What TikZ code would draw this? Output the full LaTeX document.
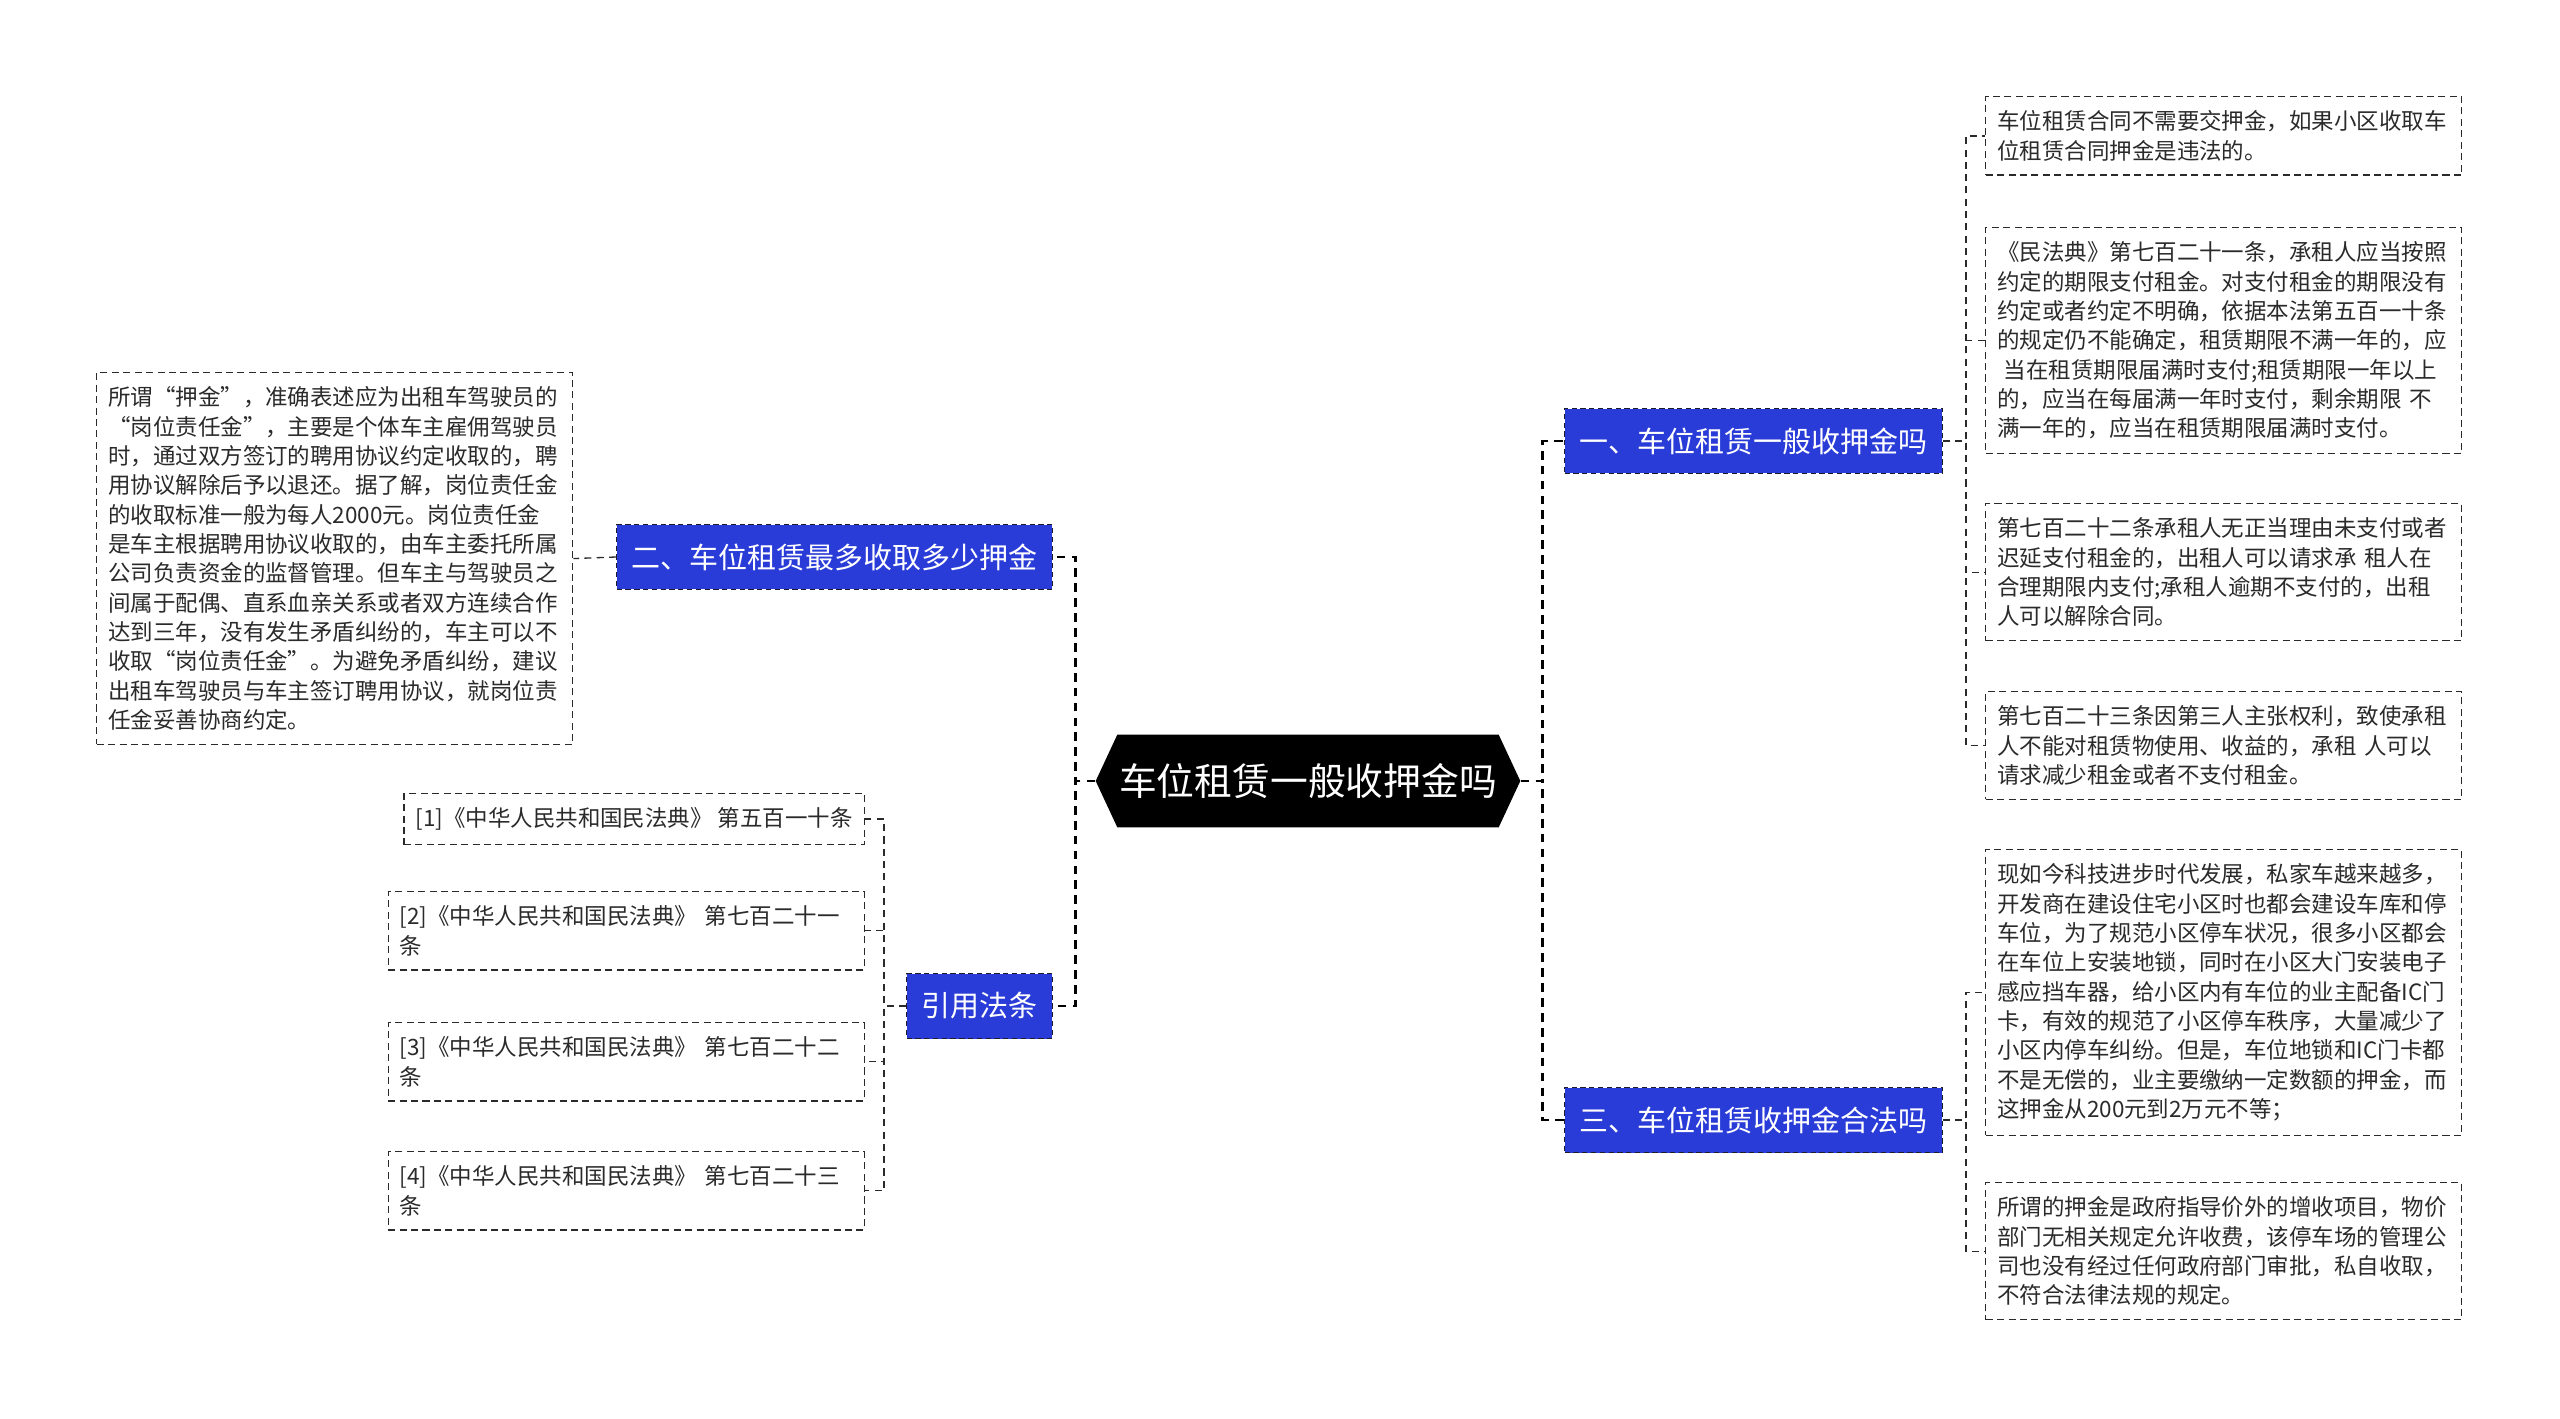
\documentclass[tikz,border=0pt]{standalone}
\usepackage{fontspec}
\setmainfont{Noto Sans CJK SC}
\usepackage{tikz}
\usetikzlibrary{shapes.symbols}
\definecolor{TreeBlue}{HTML}{2A3CD8}
\definecolor{TreeInk}{HTML}{2A2A2A}
\definecolor{TreeEdge}{HTML}{1C1C2C}

\begin{document}
\begin{tikzpicture}[x=0.02cm,y=-0.02cm,
	rootnode/.style={shape=signal,signal to=east and west,signal pointer angle=130,fill=black,text=white,font=\fontsize{21.5pt}{26pt}\selectfont,minimum height=1.86cm,inner xsep=1pt},
	topic/.style={fill=TreeBlue,draw=TreeEdge,line width=0.7pt,dash pattern=on 3pt off 2pt,text=white,font=\fontsize{16.5pt}{20pt}\selectfont,minimum height=1.3cm,inner xsep=8.5pt},
	leaf/.style={draw=TreeInk,line width=0.75pt,dash pattern=on 4pt off 2.5pt,text=TreeInk,font=\fontsize{12.8pt}{16.7pt}\selectfont,align=left,text width=258pt,inner xsep=6.5pt,inner ysep=8pt},
	mainlink/.style={draw=black,line width=1.5pt,dash pattern=on 5pt off 3.5pt},
	sublink/.style={draw=TreeInk,line width=0.75pt,dash pattern=on 4pt off 3pt}]
		\useasboundingbox (0,0) rectangle (2560,1419);
		\node[rootnode] (root) at (1308,781) {车位租赁一般收押金吗};
		\node[topic,anchor=west] (yi) at (1564,441) {一、车位租赁一般收押金吗};
		\node[topic,anchor=west] (san) at (1564,1120) {三、车位租赁收押金合法吗};
		\node[topic,anchor=east] (er) at (1053,557) {二、车位租赁最多收取多少押金};
		\node[topic,anchor=east] (fatiao) at (1053,1006) {引用法条};
		\node[leaf,anchor=north west] (ya) at (1985,96) {车位租赁合同不需要交押金，如果小区收取车\\位租赁合同押金是违法的。};
		\node[leaf,anchor=north west] (yb) at (1985,227) {《民法典》第七百二十一条，承租人应当按照\\约定的期限支付租金。对支付租金的期限没有\\约定或者约定不明确，依据本法第五百一十条\\的规定仍不能确定，租赁期限不满一年的，应\\\hspace{.3em}当在租赁期限届满时支付;租赁期限一年以上\\的，应当在每届满一年时支付，剩余期限 不\\满一年的，应当在租赁期限届满时支付。};
		\node[leaf,anchor=north west] (yc) at (1985,503) {第七百二十二条承租人无正当理由未支付或者\\迟延支付租金的，出租人可以请求承 租人在\\合理期限内支付;承租人逾期不支付的，出租\\人可以解除合同。};
		\node[leaf,anchor=north west] (yd) at (1985,691) {第七百二十三条因第三人主张权利，致使承租\\人不能对租赁物使用、收益的，承租 人可以\\请求减少租金或者不支付租金。};
		\node[leaf,anchor=north west] (sa) at (1985,849) {现如今科技进步时代发展，私家车越来越多，\\开发商在建设住宅小区时也都会建设车库和停\\车位，为了规范小区停车状况，很多小区都会\\在车位上安装地锁，同时在小区大门安装电子\\感应挡车器，给小区内有车位的业主配备IC门\\卡，有效的规范了小区停车秩序，大量减少了\\小区内停车纠纷。但是，车位地锁和IC门卡都\\不是无偿的，业主要缴纳一定数额的押金，而\\这押金从200元到2万元不等；};
		\node[leaf,anchor=north west] (sb) at (1985,1182) {所谓的押金是政府指导价外的增收项目，物价\\部门无相关规定允许收费，该停车场的管理公\\司也没有经过任何政府部门审批，私自收取，\\不符合法律法规的规定。};
		\node[leaf,anchor=north west] (ea) at (96,372) {所谓“押金”，准确表述应为出租车驾驶员的\\“岗位责任金”，主要是个体车主雇佣驾驶员\\时，通过双方签订的聘用协议约定收取的，聘\\用协议解除后予以退还。据了解，岗位责任金\\的收取标准一般为每人2000元。岗位责任金\\是车主根据聘用协议收取的，由车主委托所属\\公司负责资金的监督管理。但车主与驾驶员之\\间属于配偶、直系血亲关系或者双方连续合作\\达到三年，没有发生矛盾纠纷的，车主可以不\\收取“岗位责任金”。为避免矛盾纠纷，建议\\出租车驾驶员与车主签订聘用协议，就岗位责\\任金妥善协商约定。};
		\node[leaf,text width={},anchor=north east] (fa) at (865,793) {[1]《中华人民共和国民法典》 第五百一十条};
		\node[leaf,anchor=north east] (fb) at (865,891) {[2]《中华人民共和国民法典》 第七百二十一\\条};
		\node[leaf,anchor=north east] (fc) at (865,1022) {[3]《中华人民共和国民法典》 第七百二十二\\条};
		\node[leaf,anchor=north east] (fd) at (865,1151) {[4]《中华人民共和国民法典》 第七百二十三\\条};
		\draw[mainlink] (root.east) -- ++(22,0) |- (yi.west);
		\draw[mainlink] (root.east) -- ++(22,0) |- (san.west);
		\draw[mainlink] (root.west) -- ++(-20,0) |- (er.east);
		\draw[mainlink] (root.west) -- ++(-20,0) |- (fatiao.east);
		\foreach \n in {ya,yb,yc,yd}
		\draw[sublink] (yi.east) -- ++(23,0) |- (\n.west);
		\foreach \n in {sa,sb}
		\draw[sublink] (san.east) -- ++(23,0) |- (\n.west);
		\draw[sublink] (er.west) -- (ea.east);
		\foreach \n in {fa,fb,fc,fd}
		\draw[sublink] (fatiao.west) -- ++(-22,0) |- (\n.east);
	\end{tikzpicture}
\end{document}
